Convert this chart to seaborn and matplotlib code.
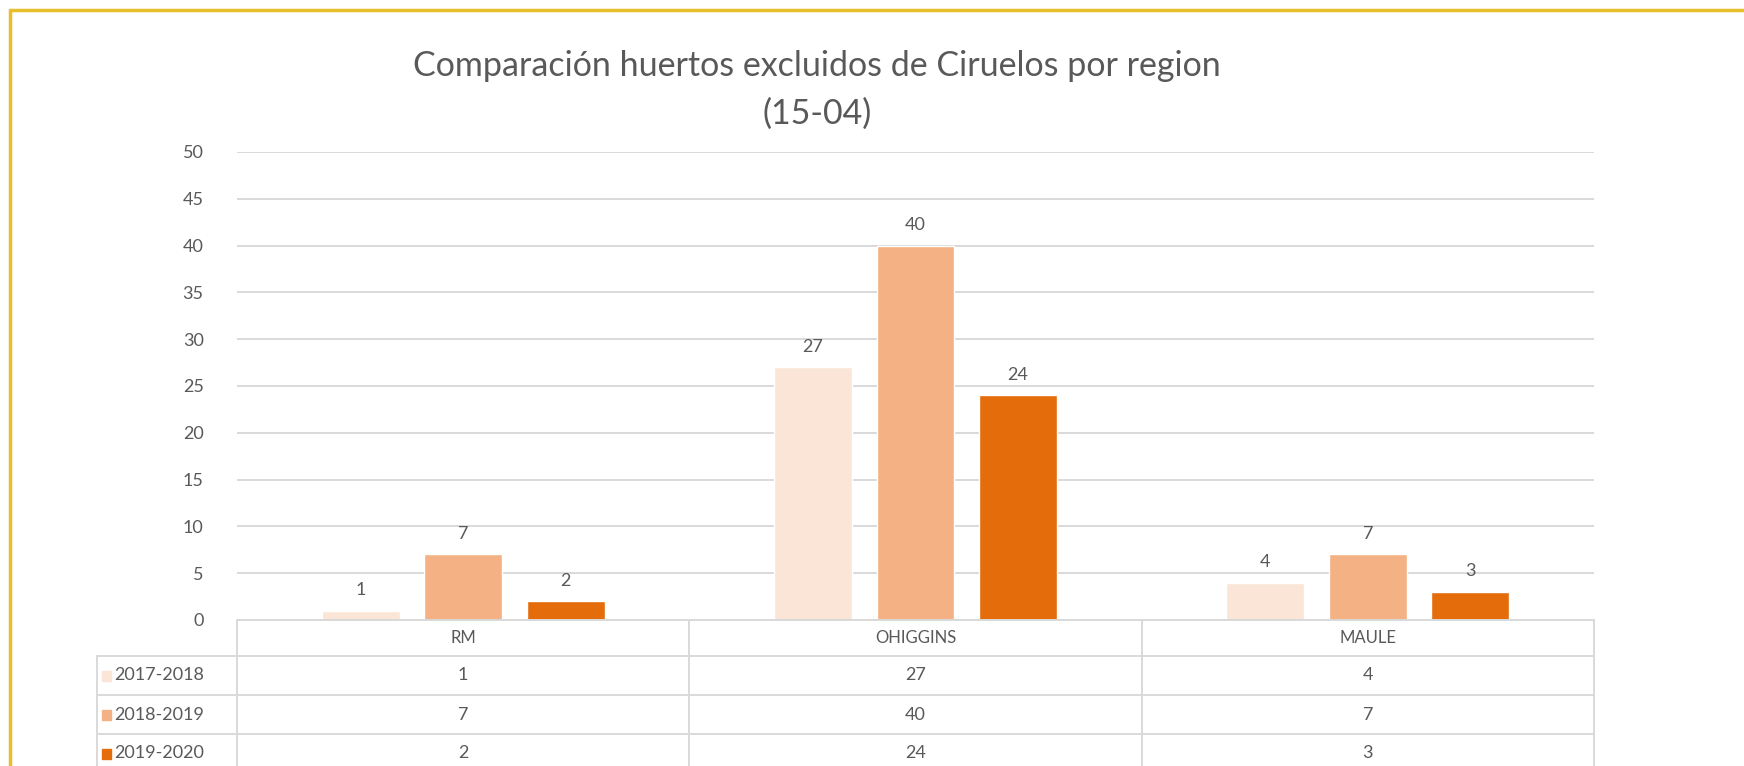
import pandas as pd
import matplotlib.pyplot as plt
import matplotlib.transforms as mtransforms
from matplotlib.lines import Line2D
from matplotlib.patches import Rectangle
import seaborn as sns

regions = ["RM", "OHIGGINS", "MAULE"]
seasons = ["2017-2018", "2018-2019", "2019-2020"]
v_2017 = [1, 27, 4]
v_2018 = [7, 40, 7]
v_2019 = [2, 24, 3]
colors = ["#FBE5D6", "#F4B183", "#E46C0A"]
title_lines = ["Comparación huertos excluidos de Ciruelos por region", "(15-04)"]

df = pd.DataFrame({
    "region": regions * 3,
    "season": [s for s in seasons for _ in regions],
    "value": v_2017 + v_2018 + v_2019,
})

sns.set_style("white")
plt.rcParams["font.family"] = ["Lato", "DejaVu Sans"]
grey = "#595959"
line_c = "#D9D9D9"

W, H = 1744, 766
fig = plt.figure(figsize=(W / 100, H / 100), dpi=100)

def fx(x):
    return x / W

def fy(y):
    return 1 - y / H

ax_l, ax_r, ax_t, ax_b = 237, 1594, 152, 620
ax = fig.add_axes([fx(ax_l), fy(ax_b), fx(ax_r) - fx(ax_l), fy(ax_t) - fy(ax_b)])

sns.barplot(data=df, x="region", y="value", hue="season", order=regions,
            hue_order=seasons, palette=colors, width=0.68, gap=0.24,
            saturation=1, ax=ax, legend=False)

for c in ax.containers:
    ax.bar_label(c, padding=9, color=grey, fontsize=13)

ax.set_ylim(0, 50)
ax.set_xlim(-0.5, 2.5)
ax.set_yticks(range(0, 51, 5))
ax.yaxis.grid(True, color=line_c, lw=1.4)
ax.set_axisbelow(True)
ax.set_xticks([])
ax.set_xlabel("")
ax.set_ylabel("")
ax.tick_params(axis="y", length=0, pad=24, labelsize=13, labelcolor=grey)
for s in ax.spines.values():
    s.set_visible(False)

# data table under the plot
tf = fig.transFigure
bt = mtransforms.blended_transform_factory(ax.transData, fig.transFigure)
tab_left = 97
rows_y = [620, 656, 695, 734, 773]
fig.add_artist(Line2D([fx(ax_l), fx(ax_r)], [fy(620)] * 2, color=line_c, lw=1.4, transform=tf))
for y in rows_y[1:4]:
    fig.add_artist(Line2D([fx(tab_left), fx(ax_r)], [fy(y)] * 2, color=line_c, lw=1.4, transform=tf))
fig.add_artist(Line2D([fx(tab_left)] * 2, [fy(656), fy(780)], color=line_c, lw=1.4, transform=tf))
for xb in [-0.5, 0.5, 1.5, 2.5]:
    fig.add_artist(Line2D([xb, xb], [fy(620), fy(780)], color=line_c, lw=1.4, transform=bt))

for i, r in enumerate(regions):
    fig.text(i, fy(638), r, transform=bt, ha="center", va="center", color=grey, fontsize=12)

for j, (s, vals) in enumerate(zip(seasons, [v_2017, v_2018, v_2019])):
    yc = (rows_y[j + 1] + rows_y[j + 2]) / 2
    fig.add_artist(Rectangle((fx(102), fy(yc + 5)), fx(9), 10 / H, color=colors[j], transform=tf))
    fig.text(fx(114), fy(yc), s, ha="left", va="center", color=grey, fontsize=13)
    for i, v in enumerate(vals):
        fig.text(i, fy(yc), str(v), transform=bt, ha="center", va="center", color=grey, fontsize=13)

fig.text(0.4685, fy(66), title_lines[0], ha="center", va="center", color=grey, fontsize=24.5)
fig.text(0.4685, fy(114), title_lines[1], ha="center", va="center", color=grey, fontsize=24.5)

# yellow frame of the original picture
fig.add_artist(Line2D([fx(10), fx(10)], [fy(10), 0], color="#E6BF2A", lw=2.5, transform=tf))
fig.add_artist(Line2D([fx(10), 1], [fy(10), fy(10)], color="#E6BF2A", lw=2.5, transform=tf))

fig.savefig("out.png", dpi=100)
